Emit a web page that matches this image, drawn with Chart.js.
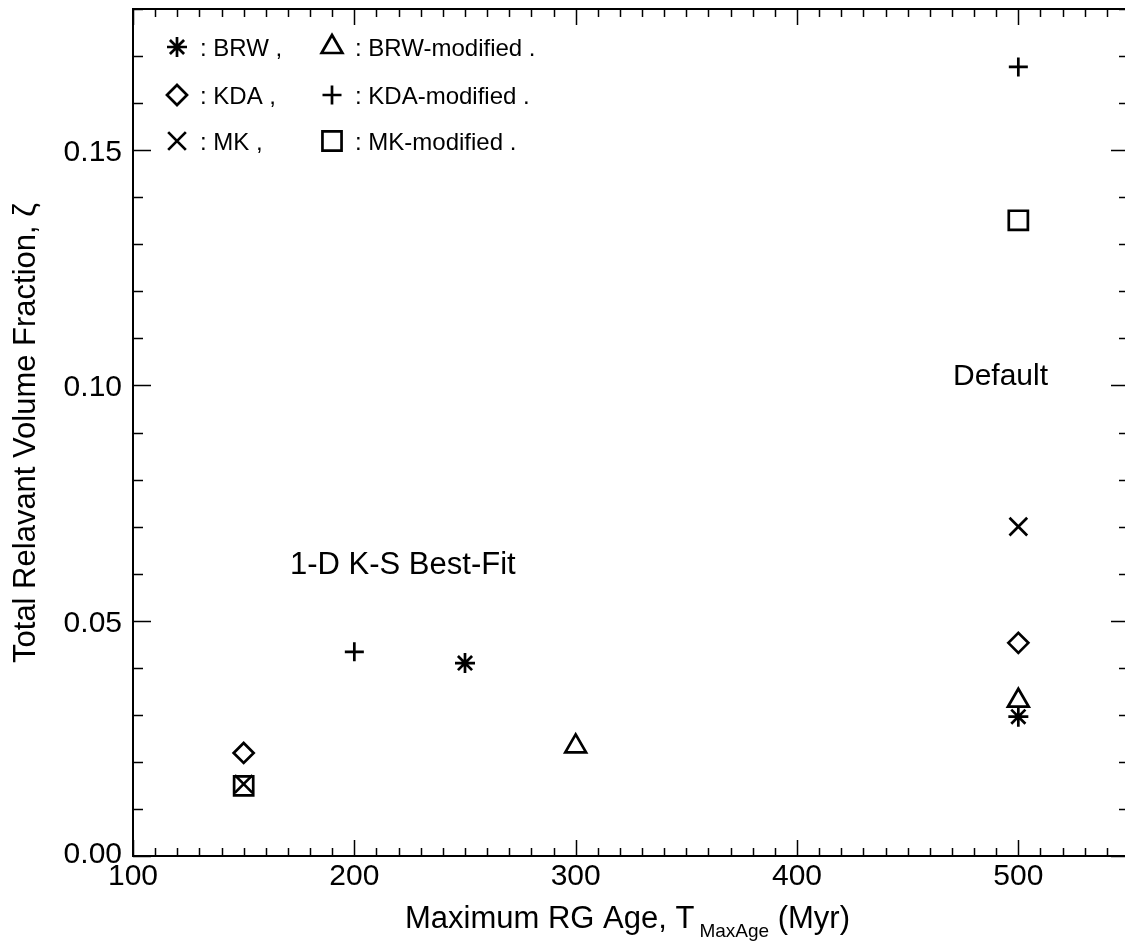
<!DOCTYPE html>
<html>
<head>
<meta charset="utf-8">
<script src="https://cdn.jsdelivr.net/npm/chart.js@4/dist/chart.umd.min.js"></script>
<style>
  html, body { margin: 0; padding: 0; background: #fff; overflow: hidden; }
  canvas { display: block; }
</style>
</head>
<body>
<canvas id="graphique" width="1131" height="941"></canvas>
<script>
// Valeurs (T_MaxAge en Myr, fraction de volume)
const brwX = [250, 500];
const brwY = [0.0410, 0.0296];
const kdaX = [150, 500];
const kdaY = [0.0219, 0.0453];
const mkX = [150, 500];
const mkY = [0.0153, 0.0700];
const brwModX = [300, 500];
const brwModY = [0.0233, 0.0330];
const kdaModX = [200, 500];
const kdaModY = [0.0434, 0.1677];
const mkModX = [150, 500];
const mkModY = [0.0149, 0.1351];

// Graduations
const xTicks = [100, 200, 300, 400, 500];
const xTickLabels = ["100", "200", "300", "400", "500"];
const yTicks = [0, 0.05, 0.10, 0.15];
const yTickLabels = ["0.00", "0.05", "0.10", "0.15"];

const police = "'Liberation Sans', Arial, Helvetica, sans-serif";

function points(xs, ys) {
	return xs.map((x, i) => ({ x: x, y: ys[i] }));
}

function serie(label, xs, ys, style, rayon) {
	return {
		label: label,
		data: points(xs, ys),
		pointStyle: style,
		pointRadius: rayon,
		pointBorderWidth: 2.7,
		pointBorderColor: "#000",
		pointBackgroundColor: "rgba(0,0,0,0)",
		showLine: false,
	};
}

const datasets = [
	serie("BRW", brwX, brwY, "star", 10),
	serie("KDA", kdaX, kdaY, "rectRot", 10),
	serie("MK", mkX, mkY, "crossRot", 12.5),
	serie("BRW-modified", brwModX, brwModY, "triangle", 12),
	serie("KDA-modified", kdaModX, kdaModY, "cross", 9.5),
	serie("MK-modified", mkModX, mkModY, "rect", 13.5),
];

// Cadre, graduations internes, textes
const cadre = {
	id: "cadre",
	afterDraw(chart) {
		const ctx = chart.ctx;
		const a = chart.chartArea;
		const sx = chart.scales.x;
		const sy = chart.scales.y;
		ctx.save();
		ctx.strokeStyle = "#000";
		ctx.fillStyle = "#000";

		// graduations
		ctx.lineWidth = 1.5;
		ctx.beginPath();
		for (let v = 100; v <= 550; v += 10) {
			const px = Math.round(sx.getPixelForValue(v)) + 0.5;
			const long = (v % 100 === 0) ? 16 : 8;
			ctx.moveTo(px, a.bottom); ctx.lineTo(px, a.bottom - long);
			ctx.moveTo(px, a.top); ctx.lineTo(px, a.top + long);
		}
		for (let k = 0; k <= 18; k++) {
			const py = Math.round(sy.getPixelForValue(k / 100)) + 0.5;
			const long = (k % 5 === 0) ? 18 : 10;
			ctx.moveTo(a.left, py); ctx.lineTo(a.left + long, py);
			ctx.moveTo(a.right, py); ctx.lineTo(a.right - long, py);
		}
		ctx.stroke();

		ctx.lineWidth = 2;
		ctx.strokeRect(a.left, a.top, a.right - a.left, a.bottom - a.top);

		// étiquettes des axes
		ctx.font = "30px " + police;
		ctx.textBaseline = "alphabetic";
		ctx.textAlign = "center";
		xTicks.forEach((v, i) => {
			ctx.fillText(xTickLabels[i], sx.getPixelForValue(v), a.bottom + 29);
		});
		ctx.textAlign = "right";
		yTicks.forEach((v, i) => {
			const dy = (v === 0) ? 7 : 11;
			ctx.fillText(yTickLabels[i], a.left - 11, sy.getPixelForValue(v) + dy);
		});

		// titre axe X avec indice
		ctx.textAlign = "left";
		ctx.font = "31px " + police;
		let x0 = 405;
		const t1 = "Maximum RG Age, T";
		ctx.fillText(t1, x0, 928);
		x0 += ctx.measureText(t1).width + 5;
		ctx.font = "19px " + police;
		ctx.fillText("MaxAge", x0, 937);
		x0 += ctx.measureText("MaxAge").width;
		ctx.font = "31px " + police;
		ctx.fillText(" (Myr)", x0, 928);

		// titre axe Y
		ctx.save();
		ctx.translate(35, 433);
		ctx.rotate(-Math.PI / 2);
		ctx.textAlign = "center";
		ctx.fillText("Total Relavant Volume Fraction, \u03B6", 0, 0);
		ctx.restore();

		// annotations
		ctx.font = "31px " + police;
		ctx.textAlign = "left";
		ctx.fillText("1-D K-S Best-Fit", 290, 574);
		ctx.font = "30px " + police;
		ctx.fillText("Default", 953, 385);

		// légende
		const lignes = [56, 104, 150];
		const textes1 = [": BRW ,", ": KDA ,", ": MK ,"];
		const textes2 = [": BRW-modified .", ": KDA-modified .", ": MK-modified ."];
		ctx.font = "24px " + police;
		for (let i = 0; i < 3; i++) {
			const d1 = datasets[i];
			const d2 = datasets[i + 3];
			dessinerSymbole(ctx, d1, 177, lignes[i] - 9);
			dessinerSymbole(ctx, d2, 332, lignes[i] - 9);
			ctx.fillText(textes1[i], 200, lignes[i]);
			ctx.fillText(textes2[i], 355, lignes[i]);
		}
		ctx.restore();
	},
};

function dessinerSymbole(ctx, d, x, y) {
	ctx.save();
	ctx.lineWidth = d.pointBorderWidth;
	ctx.strokeStyle = "#000";
	ctx.fillStyle = "rgba(0,0,0,0)";
	Chart.helpers.drawPoint(ctx, {
		pointStyle: d.pointStyle,
		radius: d.pointRadius,
		rotation: 0,
		borderWidth: d.pointBorderWidth,
	}, x, y);
	ctx.restore();
}

const config = {
	type: "scatter",
	data: { datasets: datasets },
	options: {
		responsive: false,
		animation: false,
		layout: { autoPadding: false, padding: { top: 9, right: 2, left: 0, bottom: 0 } },
		plugins: { legend: { display: false }, tooltip: { enabled: false } },
		scales: {
			x: {
				type: "linear", min: 100, max: 550,
				ticks: { display: false },
				grid: { display: false },
				border: { display: false },
				afterFit(s) { s.height = 85; },
			},
			y: {
				type: "linear", min: 0, max: 0.18,
				ticks: { display: false },
				grid: { display: false },
				border: { display: false },
				afterFit(s) { s.width = 133; },
			},
		},
	},
	plugins: [cadre],
};

new Chart(document.querySelector("#graphique"), config);
</script>
</body>
</html>
